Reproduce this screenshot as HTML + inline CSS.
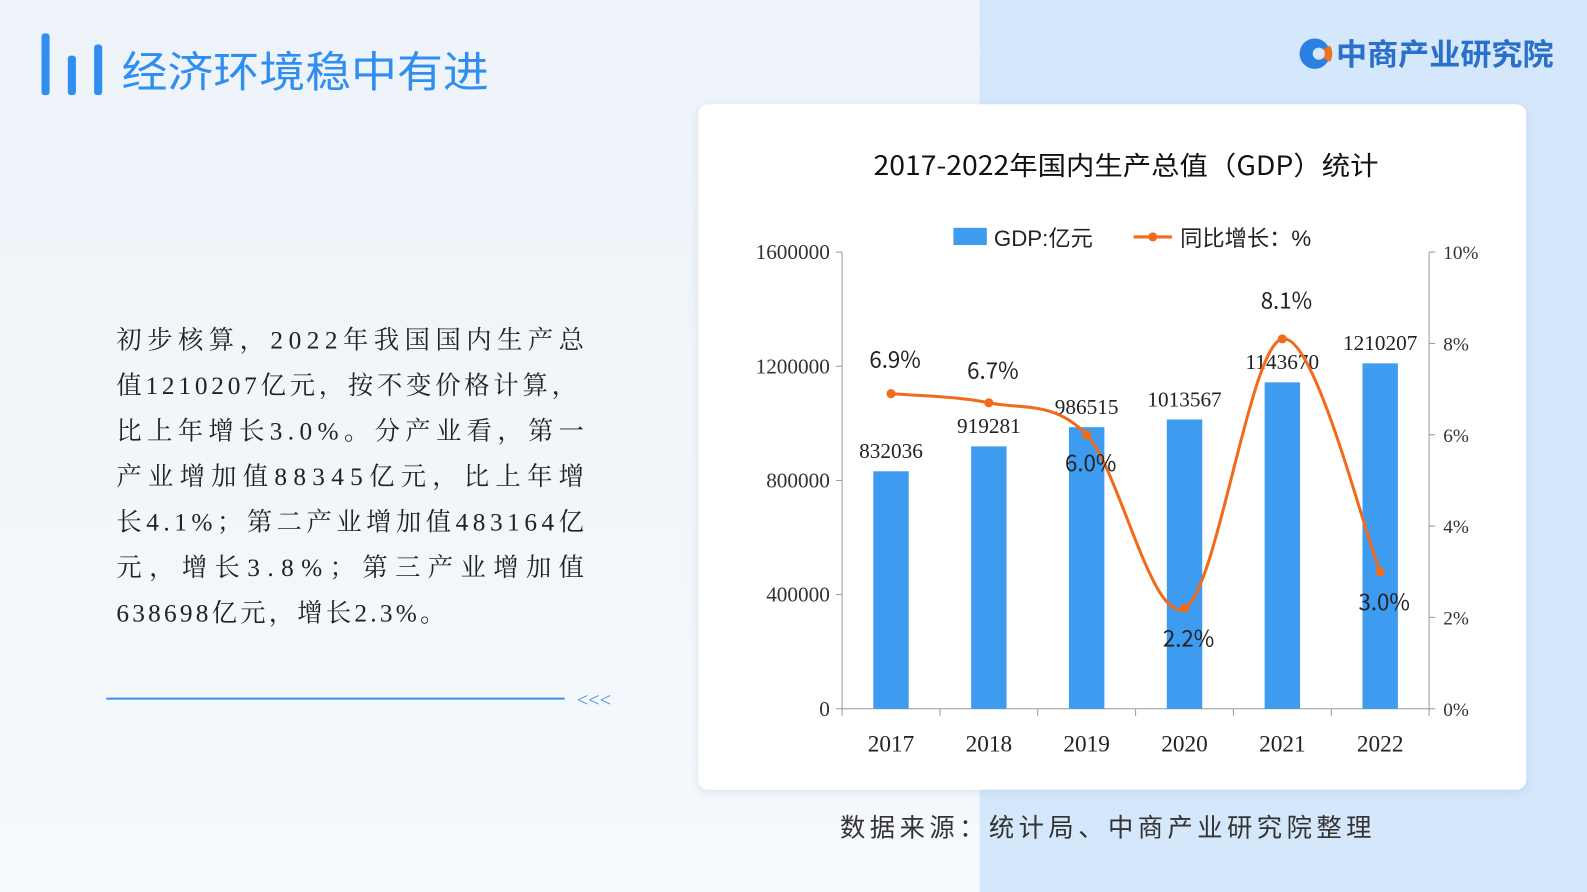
<!DOCTYPE html>
<html><head><meta charset="utf-8"><style>
html,body{margin:0;padding:0;width:1587px;height:892px;overflow:hidden;background:#f4f8fd}
svg{display:block}
text{font-family:"Liberation Serif","Noto Serif CJK SC",serif}
.cjk{font-family:"Liberation Sans","Noto Sans CJK SC",sans-serif}
.ncjk{font-family:"Noto Sans CJK SC",sans-serif}
</style></head><body>
<svg id="chart" width="1587" height="892" viewBox="0 0 1568 881" preserveAspectRatio="none">
<defs><linearGradient id="bg" x1="0" y1="0" x2="0" y2="1"><stop offset="0" stop-color="#eef3f9"/><stop offset="1" stop-color="#f6f9fd"/></linearGradient>
<filter id="sh" x="-5%" y="-5%" width="110%" height="110%"><feDropShadow dx="0" dy="2" stdDeviation="5" flood-color="#9fb3cc" flood-opacity="0.35"/></filter></defs>
<rect x="0" y="0" width="1568" height="881" fill="url(#bg)"/>
<rect x="968" y="0" width="600" height="881" fill="#d4e7fb"/>
<g fill="#2f8ef0">
<rect x="41" y="33" width="8" height="61" rx="3"/><rect x="67" y="55" width="8" height="39" rx="3"/><rect x="93" y="44" width="8" height="50" rx="3"/></g>
<text x="120" y="86" class="ncjk" font-size="42" fill="#2f8ef0" textLength="363" lengthAdjust="spacingAndGlyphs">经济环境稳中有进</text>
<g><circle cx="1299" cy="53" r="15" fill="#2a7fe0"/><path d="M1299 53 L1314 45 A15 15 0 0 1 1314 61 Z" fill="#f07020"/><circle cx="1303" cy="53" r="6" fill="#d4e7fb"/>
<text x="1320" y="64" class="ncjk" font-size="30" font-weight="bold" fill="#2a6fc8" textLength="215" lengthAdjust="spacingAndGlyphs">中商产业研究院</text></g>
<g class="ncjk" font-size="25" fill="#222">
<text x="115" y="344" textLength="462" lengthAdjust="spacing">初步核算，2022年我国国内生产总</text>
<text x="115" y="389" textLength="455" lengthAdjust="spacing">值1210207亿元，按不变价格计算，</text>
<text x="115" y="434" textLength="462" lengthAdjust="spacing">比上年增长3.0%。分产业看，第一</text>
<text x="115" y="479" textLength="462" lengthAdjust="spacing">产业增加值88345亿元，比上年增</text>
<text x="115" y="524" textLength="462" lengthAdjust="spacing">长4.1%；第二产业增加值483164亿</text>
<text x="115" y="569" textLength="462" lengthAdjust="spacing">元，增长3.8%；第三产业增加值</text>
<text x="115" y="614" textLength="325" lengthAdjust="spacing">638698亿元，增长2.3%。</text></g>
<line x1="105" y1="690" x2="558" y2="690" stroke="#3b8fe6" stroke-width="2"/>
<text x="570" y="698" font-size="20" fill="#3b8fe6">&lt;&lt;&lt;</text>
<rect x="690" y="103" width="818" height="677" rx="10" fill="#fff" filter="url(#sh)"/>
<text x="863" y="173" class="ncjk" font-size="26" fill="#111" textLength="499" lengthAdjust="spacingAndGlyphs">2017-2022年国内生产总值（GDP）统计</text>
<g>
<rect x="942" y="225" width="33" height="17" fill="#3d9cf0"/>
<text x="982" y="243" font-size="22" fill="#222" class="cjk">GDP:亿元</text>
<line x1="1120" y1="234" x2="1158" y2="234" stroke="#f26a1b" stroke-width="3"/><circle cx="1139" cy="234" r="4.5" fill="#f26a1b"/>
<text x="1166" y="243" font-size="22" fill="#222" class="cjk">同比增长：%</text></g>
<g id="plot"></g>
<text x="830" y="826" class="ncjk" font-size="25" fill="#333" textLength="525" lengthAdjust="spacing">数据来源：统计局、中商产业研究院整理</text>
</svg>
<script>
const years=["2017","2018","2019","2020","2021","2022"];
const gdp=[832036,919281,986515,1013567,1143670,1210207];
const growth=[6.9,6.7,6.0,2.2,8.1,3.0];
const leftTicks=[0,400000,800000,1200000,1600000];
const rightTicks=[0,2,4,6,8,10];
const L=832,R=1412,T=249,B=700;
const NS="http://www.w3.org/2000/svg";
const g=document.getElementById('plot');
function yl(v){return B-(v/1600000)*(B-T);}
function yr(v){return B-(v/10)*(B-T);}
const step=(R-L)/years.length;
function xc(i){return L+step*(i+0.5);}
function mk(tag,attrs,txt){const e=document.createElementNS(NS,tag);for(const k in attrs)e.setAttribute(k,attrs[k]);if(txt!==undefined)e.textContent=txt;g.appendChild(e);return e;}
let e;
e=mk('line',{x1:L,y1:T,x2:L,y2:B,stroke:'#999'});


e=mk('line',{x1:R,y1:T,x2:R,y2:B,stroke:'#999'});


e=mk('line',{x1:L,y1:B,x2:R,y2:B,stroke:'#999'});


leftTicks.forEach(v=>{mk('line',{x1:L-6,y1:yl(v),x2:L,y2:yl(v),stroke:'#999'});
e=mk('text',{x:L-12,y:yl(v)+7,'text-anchor':'end','font-size':21,fill:'#333'},String(v));

});
rightTicks.forEach(v=>{mk('line',{x1:R,y1:yr(v),x2:R+6,y2:yr(v),stroke:'#999'});
e=mk('text',{x:R+14,y:yr(v)+7,'font-size':19,fill:'#333'},v+'%');

});
for(let i=0;i<=years.length;i++){mk('line',{x1:L+step*i,y1:B,x2:L+step*i,y2:B+7,stroke:'#999'});}
years.forEach((y,i)=>{e=mk('text',{x:xc(i),y:B+42,'text-anchor':'middle','font-size':23,fill:'#222'},y);

});
gdp.forEach((v,i)=>{e=mk('rect',{x:xc(i)-17.5,y:yl(v),width:35,height:B-yl(v),fill:'#3d9cf0'});


e=mk('text',{x:xc(i),y:yl(v)-13,'text-anchor':'middle','font-size':21,fill:'#222'},String(v));

});
const pts=growth.map((v,i)=>[xc(i),yr(v)]);
let d='M'+pts[0][0]+','+pts[0][1];
for(let i=0;i<pts.length-1;i++){const p0=pts[i-1]||pts[i],p1=pts[i],p2=pts[i+1],p3=pts[i+2]||p2;
d+=' C'+(p1[0]+(p2[0]-p0[0])/6)+','+(p1[1]+(p2[1]-p0[1])/6)+' '+(p2[0]-(p3[0]-p1[0])/6)+','+(p2[1]-(p3[1]-p1[1])/6)+' '+p2[0]+','+p2[1];}
e=mk('path',{d:d,fill:'none',stroke:'#f26a1b','stroke-width':3});


const off=[-26,-24,36,38,-30,38];
growth.forEach((v,i)=>{e=mk('circle',{cx:xc(i),cy:yr(v),r:4.5,fill:'#f26a1b'});


e=mk('text',{x:xc(i)+4,y:yr(v)+off[i],'text-anchor':'middle','font-size':22,fill:'#222',class:'ncjk'},v.toFixed(1)+'%');

});
</script>
</body></html>
